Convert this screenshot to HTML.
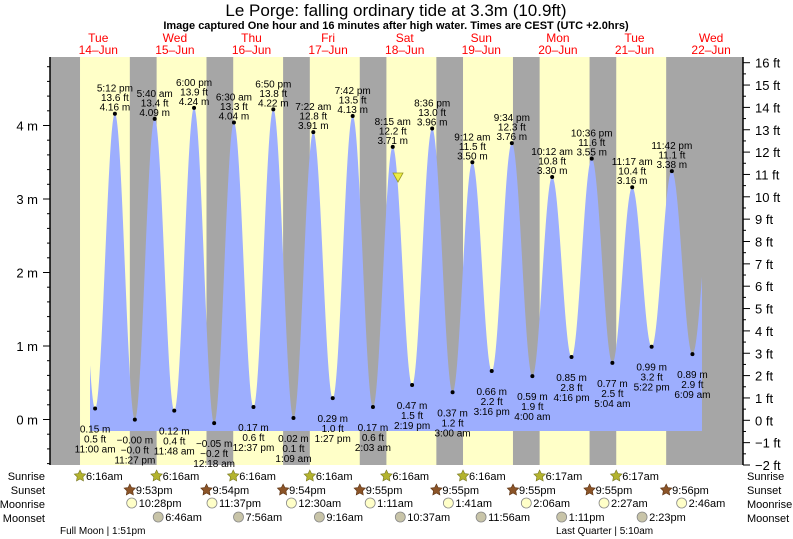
<!DOCTYPE html>
<html><head><meta charset="utf-8"><style>
html,body{margin:0;padding:0;background:#fff;}
svg{display:block;font-family:"Liberation Sans",sans-serif;}
</style></head><body>
<svg id="s" width="793" height="539" xmlns="http://www.w3.org/2000/svg">
<text x="396" y="16" font-size="17" text-anchor="middle">Le Porge: falling  ordinary tide at 3.3m (10.9ft)</text>
<text x="396" y="29" font-size="11" font-weight="bold" text-anchor="middle">Image captured One hour and 16 minutes after high water. Times are CEST (UTC +2.0hrs)</text>
<g id="g"></g>
</svg>
<script>
const g=document.getElementById('g');
let out='';
const X=t=>60+t*3.1917;
const Y=m=>419.5-m*73.5;
const L=50,R=743,T=57,B=465;
out+=`<rect x="${L}" y="${T}" width="${R-L}" height="${B-T}" fill="#a6a6a6"/>`;
const srise=[6.27,6.27,6.27,6.27,6.27,6.27,6.28,6.28];
const sset=[21.88,21.9,21.9,21.92,21.92,21.92,21.92,21.92];
for(let d=0;d<8;d++){const a=X(d*24+srise[d]),b=X(d*24+sset[d]);out+=`<rect x="${a}" y="${T}" width="${b-a}" height="${B-T}" fill="#ffffc8"/>`;}
const E=[[4.75,4.0,'',1],[11,0.15,'11:00 am',0],[17.2,4.16,'5:12 pm',1],[23.45,-0.001,'11:27 pm',0],
[29+2/3,4.09,'5:40 am',1],[35.8,0.12,'11:48 am',0],[42,4.24,'6:00 pm',1],
[48.3,-0.05,'12:18 am',0],[54.5,4.04,'6:30 am',1],[60+37/60,0.17,'12:37 pm',0],[66+50/60,4.22,'6:50 pm',1],
[73.15,0.02,'1:09 am',0],[79+22/60,3.91,'7:22 am',1],[85.45,0.29,'1:27 pm',0],[91.7,4.13,'7:42 pm',1],
[98.05,0.17,'2:03 am',0],[104.25,3.71,'8:15 am',1],[110+19/60,0.47,'2:19 pm',0],[116.6,3.96,'8:36 pm',1],
[123,0.37,'3:00 am',0],[129.2,3.50,'9:12 am',1],[135+16/60,0.66,'3:16 pm',0],[141+34/60,3.76,'9:34 pm',1],
[148,0.59,'4:00 am',0],[154.2,3.30,'10:12 am',1],[160+16/60,0.85,'4:16 pm',0],[166.6,3.55,'10:36 pm',1],
[173+4/60,0.77,'5:04 am',0],[179+17/60,3.16,'11:17 am',1],[185+22/60,0.99,'5:22 pm',0],[191.7,3.38,'11:42 pm',1],
[198.15,0.89,'6:09 am',0],[204.5,3.2,'',1]];
function h(t){for(let i=0;i<E.length-1;i++){if(t>=E[i][0]&&t<=E[i+1][0]){const f=(t-E[i][0])/(E[i+1][0]-E[i][0]);return E[i][1]+(E[i+1][1]-E[i][1])*(1-Math.cos(Math.PI*f))/2;}}return 0;}
const t0=(90-60)/3.1917,t1=(702-60)/3.1917;
let p=`M${X(t0)},431 `;
for(let t=t0;t<=t1;t+=0.05)p+=`L${X(t).toFixed(2)},${Y(h(t)).toFixed(2)} `;
p+=`L${X(t1)},${Y(h(t1))} L${X(t1)},431 Z`;
out+=`<path d="${p}" fill="#9daefe"/>`;
for(const e of E){if(!e[2])continue;const x=X(e[0]),y=Y(e[1]);
let fv=e[1]/0.3048, ft=(fv<0?'−':'')+Math.abs(fv).toFixed(1);
let m=(e[1]<0?'−':'')+Math.abs(e[1]).toFixed(2)+' m';const tm=e[2];
out+=`<circle cx="${x}" cy="${y}" r="2" fill="#000"/>`;
if(e[3]){out+=`<text x="${x}" y="${y-3}" font-size="10" text-anchor="middle">${m}</text><text x="${x}" y="${y-12.5}" font-size="10" text-anchor="middle">${ft} ft</text><text x="${x}" y="${y-22}" font-size="10" text-anchor="middle">${tm}</text>`;}
else{out+=`<text x="${x}" y="${y+24}" font-size="10" text-anchor="middle">${m}</text><text x="${x}" y="${y+34}" font-size="10" text-anchor="middle">${ft} ft</text><text x="${x}" y="${y+44}" font-size="10" text-anchor="middle">${tm}</text>`;}}
out+=`<path d="M393,173 L403,173 L398,182 Z" fill="#eeee44" stroke="#999922" stroke-width="0.8"/>`;
out+=`<line x1="${L}" y1="${T}" x2="${L}" y2="${B}" stroke="#000" stroke-width="1.5"/>`;
for(let k=-3;k<=24;k++){const m=k*0.2,y=Y(m);if(y<T||y>B)continue;const maj=k%5==0;out+=`<line x1="${maj?L-7:L-3}" y1="${y}" x2="${L}" y2="${y}" stroke="#000"/>`;if(maj)out+=`<text x="${L-12}" y="${y+5}" font-size="13" text-anchor="end">${m.toFixed(0)} m</text>`;}
out+=`<line x1="${R}" y1="${T}" x2="${R}" y2="${B}" stroke="#000" stroke-width="1.5"/>`;
const Yf=f=>420.3-f*22.35;
for(let k=-4;k<=32;k++){const f=k/2,y=Yf(f);const maj=k%2==0;out+=`<line x1="${R}" y1="${y}" x2="${maj?R+7:R+3}" y2="${y}" stroke="#000"/>`;if(maj)out+=`<text x="${R+12}" y="${y+5}" font-size="13">${f<0?'−'+(-f):f} ft</text>`;}
const days=[['Tue','14–Jun'],['Wed','15–Jun'],['Thu','16–Jun'],['Fri','17–Jun'],['Sat','18–Jun'],['Sun','19–Jun'],['Mon','20–Jun'],['Tue','21–Jun'],['Wed','22–Jun']];
days.forEach((d,i)=>{const x=X(i*24+12);out+=`<text x="${x}" y="42" font-size="12" fill="#f00" text-anchor="middle">${d[0]}</text><text x="${x}" y="54" font-size="12" fill="#f00" text-anchor="middle">${d[1]}</text>`;});
const rows=[['Sunrise',480],['Sunset',494],['Moonrise',508],['Moonset',522]];
rows.forEach(r=>{out+=`<text x="45" y="${r[1]}" font-size="11" text-anchor="end">${r[0]}</text><text x="747" y="${r[1]}" font-size="11">${r[0]}</text>`;});
function star(cx,cy,r,fill,st){let s='';for(let i=0;i<10;i++){const a=-Math.PI/2+i*Math.PI/5,rr=i%2?r*0.5:r;s+=(i?'L':'M')+(cx+rr*Math.cos(a)).toFixed(1)+','+(cy+rr*Math.sin(a)).toFixed(1);}return `<path d="${s}Z" fill="${fill}" stroke="${st}" stroke-width="0.6"/>`;}
const sr=['6:16am','6:16am','6:16am','6:16am','6:16am','6:16am','6:17am','6:17am'];
const ss=['9:53pm','9:54pm','9:54pm','9:55pm','9:55pm','9:55pm','9:55pm','9:56pm'];
for(let d=0;d<8;d++){let x=X(d*24+srise[d]);out+=star(x,476,6,'#b3b32e','#777720')+`<text x="${x+6}" y="480" font-size="11">${sr[d]}</text>`;
x=X(d*24+sset[d]);out+=star(x,490,6,'#8b5428','#5a3010')+`<text x="${x+6}" y="494" font-size="11">${ss[d]}</text>`;}
const mr=[[22.47,'10:28pm'],[47.62,'11:37pm'],[72.5,'12:30am'],[97.18,'1:11am'],[121.68,'1:41am'],[146.1,'2:06am'],[170.45,'2:27am'],[194.77,'2:46am']];
mr.forEach(m=>{const x=X(m[0]);out+=`<circle cx="${x}" cy="503" r="5" fill="#ffffc8" stroke="#888" stroke-width="0.8"/><text x="${x+7}" y="507" font-size="11">${m[1]}</text>`;});
const ms=[[30.77,'6:46am'],[55.93,'7:56am'],[81.27,'9:16am'],[106.62,'10:37am'],[131.93,'11:56am'],[157.18,'1:11pm'],[182.38,'2:23pm']];
ms.forEach(m=>{const x=X(m[0]);out+=`<circle cx="${x}" cy="517" r="5" fill="#c8c4a8" stroke="#888" stroke-width="0.8"/><text x="${x+7}" y="521" font-size="11">${m[1]}</text>`;});
out+=`<text x="60" y="534" font-size="10">Full Moon | 1:51pm</text><text x="556" y="534" font-size="10">Last Quarter | 5:10am</text>`;
g.innerHTML=out;
</script>
</body></html>
